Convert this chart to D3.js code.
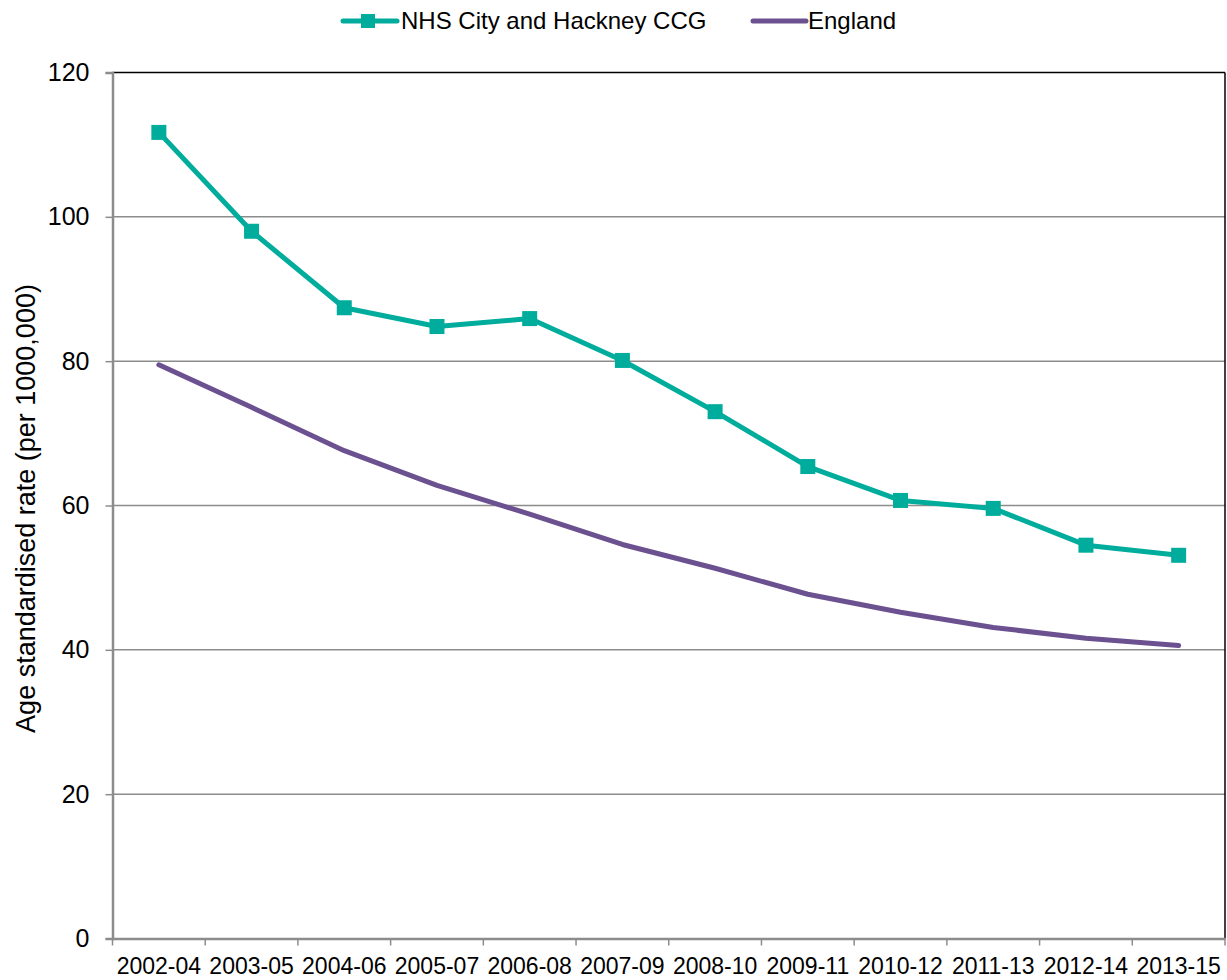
<!DOCTYPE html>
<html><head><meta charset="utf-8">
<script src="https://cdn.jsdelivr.net/npm/d3@7"></script>
<style>body{margin:0;background:#fff;} text{font-family:"Liberation Sans",Arial,sans-serif;}</style>
</head><body>
<svg id="c" width="1227" height="980"></svg>
<script>
const categories = ["2002-04","2003-05","2004-06","2005-07","2006-08","2007-09","2008-10","2009-11","2010-12","2011-13","2012-14","2013-15"];
const ccgValues = [111.7, 98.0, 87.4, 84.8, 85.9, 80.1, 73.0, 65.4, 60.7, 59.6, 54.5, 53.1];
const englandValues = [79.5, 73.6, 67.6, 62.8, 58.8, 54.6, 51.3, 47.7, 45.2, 43.1, 41.6, 40.6];
const yTicks = [0, 20, 40, 60, 80, 100, 120];
const seriesNames = ["NHS City and Hackney CCG", "England"];

const svg = d3.select("#c");
const L = 112.5, R = 1225, T = 72.5, B = 938.5;
const x = d3.scaleBand().domain(categories).range([L, R]);
const y = d3.scaleLinear().domain([0, 120]).range([B, T]);
const teal = "#00AC9C", purple = "#6B5190", grid = "#8c8c8c";
const FF = "Liberation Sans, Arial, sans-serif";

// gridlines
svg.append("g").selectAll("line").data(yTicks.filter(d => d > 0 && d < 120)).join("line")
  .attr("x1", L).attr("x2", R).attr("y1", d => y(d)).attr("y2", d => y(d))
  .attr("stroke", grid).attr("stroke-width", 1.5);
// frame top/right
svg.append("line").attr("x1", L).attr("x2", R).attr("y1", T).attr("y2", T).attr("stroke", "#000").attr("stroke-width", 1.5);
svg.append("line").attr("x1", R).attr("x2", R).attr("y1", T).attr("y2", B).attr("stroke", "#000").attr("stroke-width", 1.5);

// y axis
const ya = svg.append("g").attr("transform", `translate(${L},0)`)
  .call(d3.axisLeft(y).tickValues(yTicks).tickSize(7).tickPadding(16));
ya.attr("font-size", null).attr("font-family", null);
ya.select(".domain").attr("stroke", grid).attr("stroke-width", 2.5);
ya.selectAll(".tick line").attr("stroke", grid).attr("stroke-width", 1.5);
ya.selectAll("text").attr("font-size", 25).attr("fill", "#000").style("font-family", FF);

// x axis
const xa = svg.append("g").attr("transform", `translate(0,${B})`)
  .call(d3.axisBottom(x).tickSize(0).tickPadding(19));
xa.attr("font-size", null).attr("font-family", null);
xa.select(".domain").attr("stroke", grid).attr("stroke-width", 2.5);
xa.selectAll(".tick line").remove();
xa.selectAll("text").attr("font-size", 23).attr("fill", "#000").attr("dy", "0.71em").style("font-family", FF);
// x boundary ticks
const bounds = categories.map(c => x(c)).concat([R]);
svg.append("g").selectAll("line").data(bounds).join("line")
  .attr("x1", d => d).attr("x2", d => d).attr("y1", B).attr("y2", B + 7)
  .attr("stroke", grid).attr("stroke-width", 1.5);

// y label
svg.append("text").attr("transform", `translate(35,${(T + B) / 2 + 3}) rotate(-90)`)
  .attr("text-anchor", "middle").attr("font-size", 27).attr("fill", "#000")
  .text("Age standardised rate (per 1000,000)");

const cx = c => x(c) + x.bandwidth() / 2;
const line = d3.line().x((d, i) => cx(categories[i])).y(d => y(d));

svg.append("path").datum(englandValues).attr("d", line).attr("fill", "none")
  .attr("stroke", purple).attr("stroke-width", 5).attr("stroke-linecap", "round").attr("stroke-linejoin", "round");
svg.append("path").datum(ccgValues).attr("d", line).attr("fill", "none")
  .attr("stroke", teal).attr("stroke-width", 5).attr("stroke-linejoin", "round");
svg.append("g").selectAll("rect").data(ccgValues).join("rect")
  .attr("x", (d, i) => cx(categories[i]) - 7.5).attr("y", d => y(d) - 7.5)
  .attr("width", 15).attr("height", 15).attr("fill", teal);

// legend
const lg = svg.append("g");
lg.append("line").attr("x1", 343).attr("x2", 397).attr("y1", 21).attr("y2", 21).attr("stroke", teal).attr("stroke-width", 5).attr("stroke-linecap", "round");
lg.append("rect").attr("x", 361).attr("y", 14).attr("width", 14).attr("height", 14).attr("fill", teal);
lg.append("text").attr("x", 401).attr("y", 29).attr("font-size", 24).attr("fill", "#000").text(seriesNames[0]);
lg.append("line").attr("x1", 753).attr("x2", 806).attr("y1", 21).attr("y2", 21).attr("stroke", purple).attr("stroke-width", 5).attr("stroke-linecap", "round");
lg.append("text").attr("x", 808).attr("y", 29).attr("font-size", 24).attr("fill", "#000").text(seriesNames[1]);
</script>
</body></html>
